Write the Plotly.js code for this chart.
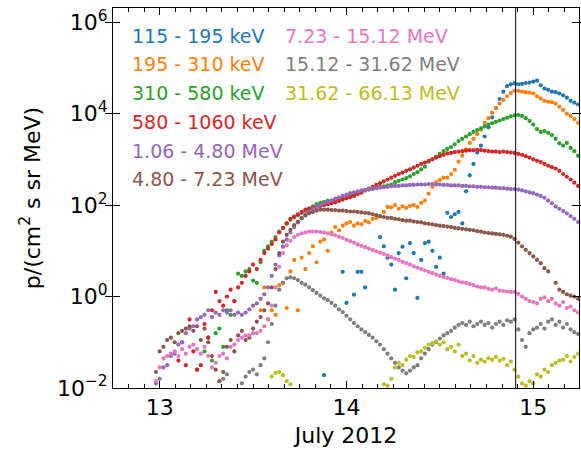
<!DOCTYPE html>
<html>
<head>
<meta charset="utf-8">
<script src="https://cdn.plot.ly/plotly-3.0.1.min.js"></script>
<style>html,body{margin:0;padding:0;background:#fff;}#chart{width:581px;height:450px;}</style>
</head>
<body>
<div id="chart"></div>
<script>
// Time (day of July 2012)
const days = [
 12.98,13.00,13.02,13.04,13.06,13.08,13.10,13.12,13.14,13.16,
 13.18,13.20,13.22,13.24,13.26,13.28,13.30,13.32,13.34,13.36,
 13.38,13.40,13.42,13.44,13.46,13.48,13.50,13.52,13.54,13.56,
 13.58,13.60,13.62,13.64,13.66,13.68,13.70,13.72,13.74,13.76,
 13.78,13.80,13.82,13.84,13.86,13.88,13.90,13.92,13.94,13.96,
 13.98,14.00,14.02,14.04,14.06,14.08,14.10,14.12,14.14,14.16,
 14.18,14.20,14.22,14.24,14.26,14.28,14.30,14.32,14.34,14.36,
 14.38,14.40,14.42,14.44,14.46,14.48,14.50,14.52,14.54,14.56,
 14.58,14.60,14.62,14.64,14.66,14.68,14.70,14.72,14.74,14.76,
 14.78,14.80,14.82,14.84,14.86,14.88,14.90,14.92,14.94,14.96,
 14.98,15.00,15.02,15.04,15.06,15.08,15.10,15.12,15.14,15.16,
 15.18,15.20,15.22,15.24];

// log10 of proton intensity p/(cm^2 s sr MeV)
const n = null;
const log_115_195keV = [
 n,n,n,n,n,n,n,n,n,n,
 n,n,n,n,n,n,n,n,n,n,
 n,n,n,n,n,n,n,n,n,n,
 n,n,n,n,n,n,n,n,n,n,
 n,n,n,n,n,-1.72,n,n,n,n,
 0.54,-0.14,n,0.04,0.54,0.54,0.2,n,n,n,
 1.3,1.1,0.85,0.7,0.15,0.95,1.09,0.4,1.17,0.95,
 -0.03,0.8,1.17,1.2,1.0,0.65,0.85,0.5,1.83,1.74,
 1.8,1.85,1.6,2.3,2.65,2.9,3.15,3.3,3.5,3.7,
 3.92,4.12,4.32,4.48,4.6,4.64,4.66,4.64,4.65,4.67,
 4.68,4.7,4.72,4.62,4.55,4.52,4.48,4.47,4.44,4.4,
 4.35,4.28,4.24,4.2];
const log_195_310keV = [
 n,n,n,n,n,n,n,n,n,n,
 n,n,n,n,n,n,n,n,n,n,
 n,n,n,n,n,n,n,n,-0.3,0.2,
 -0.5,-0.3,-0.4,0.25,0.3,-0.25,0.55,0.8,-0.3,0.85,
 0.6,0.95,1.1,0.75,1.2,1.25,1.0,1.4,1.52,1.45,
 1.55,1.6,1.63,1.55,1.6,1.58,1.65,1.62,1.7,1.72,
 1.75,1.85,1.96,1.95,2.0,1.92,1.97,1.94,1.98,2.0,
 1.96,2.05,2.1,2.25,2.4,2.5,2.55,2.6,2.6,2.68,
 2.77,2.95,3.08,3.22,3.36,3.45,3.55,3.65,3.8,3.9,
 4.02,4.12,4.22,4.3,4.38,4.45,4.5,4.5,4.48,4.47,
 4.46,4.44,4.38,4.33,4.28,4.26,4.25,4.22,4.15,4.08,
 4.0,3.95,3.88,3.8];
const log_310_580keV = [
 n,n,n,n,n,n,n,n,n,n,
 n,-1.6,n,-1.2,-0.9,-1.4,-0.8,-0.7,-1.1,-0.3,
 -0.4,-0.1,0.5,0.45,0.55,0.6,0.35,0.3,0.75,1.0,
 1.1,1.2,1.3,1.42,1.5,1.6,1.68,1.73,1.78,1.83,
 1.88,1.93,1.97,2.02,2.05,2.07,2.09,2.1,2.12,2.14,
 2.16,2.18,2.2,2.23,2.26,2.3,2.32,2.34,2.36,2.38,
 2.4,2.41,2.43,2.45,2.5,2.53,2.56,2.59,2.63,2.68,
 2.72,2.78,2.84,2.95,3.0,3.06,3.12,3.18,3.23,3.27,
 3.33,3.4,3.45,3.5,3.55,3.6,3.64,3.68,3.72,3.76,
 3.79,3.82,3.85,3.88,3.91,3.94,3.96,3.97,3.95,3.9,
 3.84,3.76,3.66,3.6,3.62,3.58,3.53,3.45,3.35,3.3,
 3.36,3.25,3.18,3.08];
const log_580_1060keV = [
 n,n,n,n,n,n,-1.4,-1.0,-1.5,-0.5,
 -1.2,-1.6,-1.5,-0.6,-0.9,-0.3,0.1,-0.1,-0.2,0.0,
 0.15,-0.1,0.2,0.3,0.45,0.55,0.7,0.6,0.8,0.95,
 1.05,1.15,1.25,1.4,1.5,1.6,1.7,1.75,1.8,1.85,
 1.9,1.92,1.95,1.96,1.98,2.0,2.02,2.04,2.06,2.09,
 2.12,2.15,2.17,2.2,2.24,2.27,2.32,2.36,2.4,2.44,
 2.48,2.52,2.56,2.6,2.64,2.68,2.71,2.75,2.78,2.82,
 2.86,2.9,2.93,2.97,3.0,3.04,3.07,3.1,3.13,3.14,
 3.16,3.17,3.18,3.19,3.2,3.2,3.21,3.2,3.19,3.18,
 3.17,3.17,3.16,3.17,3.16,3.15,3.14,3.12,3.1,3.07,
 3.04,3.0,2.97,2.94,2.9,2.86,2.83,2.8,2.75,2.68,
 2.62,2.56,2.49,2.42];
const log_1p06_4p80MeV = [
 -1.9,-1.8,-1.55,-1.5,-1.3,-1.25,-1.05,-1.0,-0.8,-0.7,
 -0.65,-0.5,-0.45,-0.4,-0.3,-0.45,-0.35,-0.4,-0.3,-0.35,
 -0.3,-0.4,-0.35,-0.4,-0.35,-0.28,-0.2,-0.15,-0.05,0.05,
 0.2,0.45,0.7,0.9,1.09,1.25,1.4,1.52,1.62,1.72,
 1.8,1.86,1.92,1.96,2.0,2.04,2.07,2.1,2.14,2.17,
 2.2,2.23,2.26,2.28,2.3,2.32,2.33,2.35,2.36,2.37,
 2.38,2.39,2.4,2.41,2.42,2.42,2.43,2.43,2.44,2.44,
 2.45,2.45,2.45,2.46,2.46,2.45,2.45,2.44,2.44,2.43,
 2.43,2.43,2.42,2.42,2.41,2.41,2.4,2.4,2.39,2.39,
 2.38,2.38,2.37,2.37,2.36,2.35,2.35,2.34,2.32,2.3,
 2.28,2.26,2.23,2.2,2.16,2.1,2.04,1.97,1.92,1.87,
 1.82,1.76,1.7,1.63];
const log_4p80_7p23MeV = [
 -1.65,-1.2,-1.1,-0.95,-0.9,-1.0,-0.8,-0.75,-0.7,-0.65,
 -0.75,-0.65,-0.95,-0.7,-1.0,-1.3,-1.6,-1.85,-1.65,-1.1,
 -0.95,-1.2,-0.85,-0.75,-0.95,-0.9,-0.7,-0.55,-0.45,-0.3,
 -0.15,0.2,0.6,0.95,1.2,1.35,1.46,1.56,1.64,1.71,
 1.77,1.82,1.85,1.88,1.9,1.9,1.9,1.89,1.89,1.88,
 1.88,1.87,1.86,1.86,1.85,1.84,1.83,1.82,1.8,1.78,
 1.76,1.74,1.72,1.72,1.7,1.69,1.67,1.66,1.66,1.64,
 1.63,1.62,1.6,1.59,1.58,1.56,1.55,1.54,1.53,1.52,
 1.5,1.49,1.48,1.47,1.46,1.45,1.43,1.42,1.4,1.39,
 1.38,1.37,1.36,1.35,1.33,1.31,1.26,1.18,1.1,1.02,
 0.95,0.88,0.8,0.73,0.62,0.55,n,0.3,0.15,0.1,
 0.05,0.02,0.0,-0.05];
const log_7p23_15p12MeV = [
 -1.85,-1.55,-1.35,-1.3,-1.25,-1.2,-1.3,-1.15,-1.25,-1.1,
 -1.05,-1.15,-1.25,-1.1,-1.3,-1.55,-1.45,-1.3,-1.25,-1.35,
 -1.1,-1.05,-0.95,-0.9,-0.85,-0.85,-0.8,-0.8,-0.75,-0.65,
 -0.5,-0.2,0.2,0.65,0.95,1.12,1.22,1.3,1.35,1.38,
 1.4,1.42,1.42,1.42,1.41,1.4,1.38,1.36,1.34,1.31,
 1.28,1.24,1.21,1.18,1.14,1.11,1.08,1.05,1.02,0.99,
 0.96,0.93,0.9,0.86,0.83,0.8,0.76,0.73,0.7,0.66,
 0.63,0.6,0.57,0.54,0.51,0.48,0.45,0.43,0.41,0.38,
 0.36,0.33,0.31,0.3,0.27,0.25,0.22,0.2,0.2,0.17,
 0.15,0.18,0.13,0.12,0.11,0.1,0.1,0.06,0.0,-0.05,
 -0.1,-0.12,-0.15,-0.05,-0.02,-0.1,-0.05,-0.15,-0.2,-0.12,
 -0.25,-0.22,-0.3,-0.35];
const log_15p12_31p62MeV = [
 n,n,n,n,n,n,n,n,n,n,
 n,n,n,n,n,n,n,n,-1.8,-1.7,
 n,n,n,-1.9,-1.75,-1.65,-1.6,-1.7,-1.5,-1.35,
 -1.0,-0.6,-0.2,0.15,0.3,0.4,0.42,0.4,0.36,0.3,
 0.26,0.2,0.14,0.08,0.02,-0.04,-0.08,-0.14,-0.2,-0.28,
 -0.34,-0.42,-0.5,-0.58,-0.65,-0.72,-0.78,-0.84,-0.9,-0.98,
 -1.05,-1.15,-1.25,-1.35,-1.45,-1.55,-1.62,-1.68,-1.62,-1.55,
 -1.5,-1.35,-1.25,-1.15,-1.05,-1.0,-0.92,-0.85,-0.8,-0.75,
 -0.68,-0.62,-0.58,-0.62,-0.55,-0.65,-0.6,-0.55,-0.62,-0.58,
 -0.68,-0.6,-0.55,-0.62,-0.52,-0.55,-0.5,-0.72,-0.95,-1.1,
 -0.8,-0.72,-0.68,-0.6,-0.7,-0.55,-0.5,-0.62,-0.55,-0.68,
 -0.6,-0.72,-0.78,-0.82];
const log_31p62_66p13MeV = [
 n,n,n,n,n,n,n,n,n,n,
 n,n,n,n,n,n,n,n,n,n,
 n,n,n,n,n,n,n,n,n,n,
 n,-1.75,-1.67,-1.65,-1.72,-1.85,-1.92,n,n,n,
 n,n,n,n,n,n,n,n,n,n,
 n,n,n,n,n,n,n,n,n,n,
 n,-1.92,-1.95,-1.8,-1.55,-1.45,-1.5,-1.38,-1.3,-1.32,
 -1.22,-1.2,-1.12,-1.05,-1.02,-0.98,-1.05,-1.0,-1.15,-1.1,
 -1.2,-1.05,-1.3,-1.25,-1.4,-1.3,-1.45,-1.38,-1.42,-1.35,
 -1.38,-1.32,-1.4,-1.36,-1.5,-1.42,-1.6,-1.75,-1.9,-1.95,
 -1.85,-1.9,-1.7,-1.75,-1.6,-1.65,-1.5,-1.45,-1.4,-1.38,
 -1.3,-1.42,-1.32,-1.25];

const channelLabels = ['115 - 195 keV','195 - 310 keV','310 - 580 keV','580 - 1060 keV',
  '1.06 - 4.80 MeV','4.80 - 7.23 MeV','7.23 - 15.12 MeV','15.12 - 31.62 MeV','31.62 - 66.13 MeV'];
const channelLogs = [log_115_195keV, log_195_310keV, log_310_580keV, log_580_1060keV,
  log_1p06_4p80MeV, log_4p80_7p23MeV, log_7p23_15p12MeV, log_15p12_31p62MeV, log_31p62_66p13MeV];
const colors = ['#1f77b4','#ff7f0e','#2ca02c','#d62728','#9467bd','#8c564b','#e377c2','#7f7f7f','#bcbd22'];
const shockTime = 14.906;
const xRange = [12.75, 15.245];
const minorStep = 1 / 12;   // 2-hour minor ticks
const yTickVals = [1e-2, 1e0, 1e2, 1e4, 1e6];
const yTickText = ['10<sup>\u22122</sup>','10<sup>0</sup>','10<sup>2</sup>','10<sup>4</sup>','10<sup>6</sup>'];

const FONT = 'DejaVu Sans, Arial, sans-serif';
const traces = channelLogs.map((arr, k) => ({
  type: 'scatter', mode: 'markers', name: channelLabels[k],
  x: days,
  y: arr.map(v => v === null ? null : Math.pow(10, v)),
  marker: {color: colors[k], size: 4.2, line: {width: 0}},
  hoverinfo: 'skip'
}));
// empty trace so that the minor-tick overlay axis is drawn
traces.unshift({type: 'scatter', mode: 'markers', x: [], y: [], xaxis: 'x2', yaxis: 'y',
  hoverinfo: 'skip', showlegend: false});

// legend as coloured text, two columns
const legX = [0.037, 0.364];
const legY = [0.927, 0.853, 0.777, 0.700, 0.624, 0.550];
const annotations = channelLabels.map((t, k) => ({
  text: t, xref: 'paper', yref: 'paper',
  x: k < 6 ? legX[0] : legX[1], y: legY[k < 6 ? k : k - 6],
  xanchor: 'left', yanchor: 'middle', showarrow: false,
  font: {family: FONT, size: 19, color: colors[k]}
}));

const axisCommon = {
  showline: true, linecolor: '#000', linewidth: 1, mirror: 'allticks',
  ticks: 'inside', ticklen: 7, tickwidth: 1, tickcolor: '#000',
  showgrid: false, zeroline: false,
  tickfont: {family: FONT, size: 22, color: '#000'}
};

const layout = {
  width: 581, height: 450,
  margin: {l: 113, r: 2, t: 8, b: 62},
  paper_bgcolor: '#fff', plot_bgcolor: '#fff',
  showlegend: false,
  font: {family: FONT, color: '#000'},
  xaxis: Object.assign({}, axisCommon, {
    range: xRange, tickmode: 'linear', tick0: 13, dtick: 1,
    title: {text: 'July 2012', font: {family: FONT, size: 22, color: '#000'}, standoff: 8}
  }),
  // overlay axis carrying only the 2-hour minor ticks (top and bottom)
  xaxis2: {
    overlaying: 'x', side: 'bottom', range: xRange, anchor: 'y',
    tickmode: 'linear', tick0: 13, dtick: minorStep,
    ticks: 'inside', ticklen: 4, tickwidth: 1, tickcolor: '#000',
    showticklabels: false, showline: false, mirror: 'ticks',
    showgrid: false, zeroline: false, fixedrange: true
  },
  yaxis: Object.assign({}, axisCommon, {
    type: 'log', range: [-2, 6.31],
    tickmode: 'array', tickvals: yTickVals, ticktext: yTickText,
    title: {text: 'p/(cm<sup>2</sup> s sr MeV)', font: {family: FONT, size: 22, color: '#000'}, standoff: 10}
  }),
  shapes: [{type: 'line', xref: 'x', yref: 'paper', x0: shockTime, x1: shockTime, y0: 0, y1: 1,
            line: {color: '#000', width: 1}, layer: 'above'}],
  annotations: annotations
};

Plotly.newPlot('chart', traces, layout, {staticPlot: true, displayModeBar: false});
</script>
</body>
</html>
